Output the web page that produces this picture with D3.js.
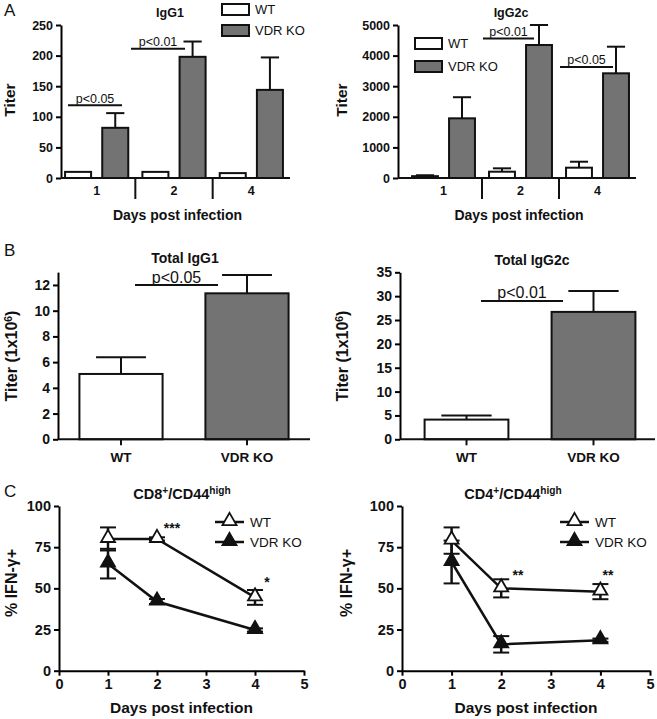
<!DOCTYPE html>
<html><head><meta charset="utf-8">
<script src="https://cdn.jsdelivr.net/npm/d3@7/dist/d3.min.js"></script>
<style>
body{margin:0;background:#fff;}
svg{display:block;font-family:"Liberation Sans",Arial,sans-serif;}
</style></head>
<body><svg id="fig" width="657" height="719"></svg>
<script>
// ---------------- DATA ----------------
const seriesNames = ["WT", "VDR KO"];
const daysA = ["1", "2", "4"];
const igg1WT = [10, 10, 8];
const igg1WTErr = [0, 0, 0];
const igg1KO = [82, 198, 144];
const igg1KOErr = [24, 25, 53];
const igg1Ticks = [0, 50, 100, 150, 200, 250];

const igg2cWT = [60, 206, 337];
const igg2cWTErr = [30, 110, 195];
const igg2cKO = [1950, 4346, 3421];
const igg2cKOErr = [690, 654, 870];
const igg2cTicks = [0, 1000, 2000, 3000, 4000, 5000];

const totalGroups = ["WT", "VDR KO"];
const totalIgG1 = [5.08, 11.35];
const totalIgG1Err = [1.3, 1.43];
const totalIgG1Ticks = [0, 2, 4, 6, 8, 10, 12];
const totalIgG2c = [4.13, 26.7];
const totalIgG2cErr = [0.84, 4.4];
const totalIgG2cTicks = [0, 5, 10, 15, 20, 25, 30, 35];

const daysC = [1, 2, 4];
const cd8WT = [80, 80, 44.5];
const cd8WTErr = [7, 1, 4.5];
const cd8KO = [65, 42, 24.7];
const cd8KOErr = [9, 1.5, 1];
const cd4WT = [79, 50, 48];
const cd4WTErr = [8, 5.5, 4.6];
const cd4KO = [66, 16, 18.5];
const cd4KOErr = [13, 5, 1];
const pctTicks = [0, 25, 50, 75, 100];
const dayTicks = [0, 1, 2, 3, 4, 5];

// ---------------- HELPERS ----------------
const svg = d3.select("#fig");
const KO_FILL = "#737373";
const fmt = d3.format("d");

function yAxis(g, y, x0, ticks, fs) {
  const a = g.append("g").attr("transform", `translate(${x0},0)`)
    .call(d3.axisLeft(y).tickValues(ticks).tickFormat(fmt).tickSize(5).tickPadding(3).tickSizeOuter(0));
  a.select(".domain").attr("stroke", "#000").attr("stroke-width", 2);
  a.selectAll(".tick line").attr("stroke", "#000").attr("stroke-width", 2);
  a.selectAll(".tick text").attr("font-size", fs).attr("font-weight", "bold")
    .attr("fill", "#111").attr("font-family", "Liberation Sans, Arial, sans-serif");
  return a;
}
function rotTitle(g, x, y, parts, fs) {
  const t = g.append("text").attr("transform", `translate(${x},${y}) rotate(-90)`)
    .attr("text-anchor", "middle").attr("font-size", fs).attr("font-weight", "bold").attr("fill", "#111");
  parts.forEach(p => {
    const ts = t.append("tspan").text(p.t);
    if (p.sup) ts.attr("baseline-shift", "super").attr("font-size", fs * 0.65);
  });
}
function title(g, x, y, parts, fs) {
  const t = g.append("text").attr("x", x).attr("y", y).attr("text-anchor", "middle")
    .attr("font-size", fs).attr("font-weight", "bold").attr("fill", "#111");
  parts.forEach(p => {
    const ts = t.append("tspan").text(p.t);
    if (p.sup) ts.attr("baseline-shift", "super").attr("font-size", fs * 0.7);
  });
}
function sigBar(g, x1, x2, y, label, fs, dy) {
  g.append("line").attr("x1", x1).attr("x2", x2).attr("y1", y).attr("y2", y)
    .attr("stroke", "#111").attr("stroke-width", 2);
  g.append("text").attr("x", (x1 + x2) / 2).attr("y", y - dy).attr("text-anchor", "middle")
    .attr("font-size", fs).attr("fill", "#111").text(label);
}
function legendBoxes(g, x, ys, fs) {
  seriesNames.forEach((n, i) => {
    g.append("rect").attr("x", x).attr("y", ys[i]).attr("width", 27).attr("height", 11)
      .attr("fill", i ? KO_FILL : "#fff").attr("stroke", "#111").attr("stroke-width", 2);
    g.append("text").attr("x", x + 33).attr("y", ys[i] + 10).attr("font-size", fs)
      .attr("fill", "#111").text(n);
  });
}

// grouped bar chart (panel A)
function groupedBars(opt) {
  const g = svg.append("g");
  const y = d3.scaleLinear().domain([0, opt.max]).range([178, 25]);
  const x0 = d3.scaleBand().domain(daysA).range(opt.xr).paddingInner(0).paddingOuter(0);
  const x1 = d3.scaleBand().domain(seriesNames).range([0, x0.bandwidth()]).paddingInner(0.3).paddingOuter(0.19);
  yAxis(g, y, opt.ax, opt.ticks, 12.5);
  const vals = [opt.wt, opt.ko], errs = [opt.wtErr, opt.koErr];
  daysA.forEach((d, i) => {
    seriesNames.forEach((s, j) => {
      const bx = x0(d) + x1(s), bw = x1.bandwidth(), v = vals[j][i], e = errs[j][i];
      const cx = bx + bw / 2;
      if (e > 0) {
        g.append("line").attr("x1", cx).attr("x2", cx).attr("y1", y(v)).attr("y2", y(v + e))
          .attr("stroke", "#111").attr("stroke-width", 2);
        g.append("line").attr("x1", cx - bw * 0.35).attr("x2", cx + bw * 0.35)
          .attr("y1", y(v + e)).attr("y2", y(v + e)).attr("stroke", "#111").attr("stroke-width", 2);
      }
      g.append("rect").attr("x", bx).attr("y", y(v)).attr("width", bw).attr("height", y(0) - y(v))
        .attr("fill", j ? KO_FILL : "#fff").attr("stroke", "#111").attr("stroke-width", 2);
    });
    g.append("text").attr("x", x0(d) + x0.bandwidth() / 2).attr("y", 195).attr("text-anchor", "middle")
      .attr("font-size", 12.5).attr("font-weight", "bold").attr("fill", "#111").text(d);
  });
  // x axis line & separators
  g.append("line").attr("x1", opt.ax).attr("x2", opt.xr[1]).attr("y1", y(0)).attr("y2", y(0))
    .attr("stroke", "#111").attr("stroke-width", 2);
  daysA.slice(1).forEach(d => {
    g.append("line").attr("x1", x0(d)).attr("x2", x0(d)).attr("y1", y(0)).attr("y2", 199)
      .attr("stroke", "#111").attr("stroke-width", 2);
  });
  g.append("text").attr("x", (opt.ax + opt.xr[1]) / 2 + 2).attr("y", 220).attr("text-anchor", "middle")
    .attr("font-size", 14).attr("font-weight", "bold").attr("fill", "#111").text("Days post infection");
  rotTitle(g, opt.ax - opt.yl, 100, [{t: "Titer"}], 15.5);
  title(g, opt.titleX, 17, [{t: opt.title}], 12.5);
  opt.sig.forEach(s => sigBar(g, s[0], s[1], y(s[2]), s[3], 12.5, 2.5));
  legendBoxes(g, opt.legX, opt.legY, 13);
}

groupedBars({max: 250, xr: [58, 290], ax: 61, yl: 46, ticks: igg1Ticks, wt: igg1WT, wtErr: igg1WTErr,
  ko: igg1KO, koErr: igg1KOErr, title: "IgG1", titleX: 170,
  sig: [[68, 122, 119, "p<0.05"], [131, 185, 211, "p<0.01"]], legX: 222, legY: [4, 25]});
groupedBars({max: 5000, xr: [405, 636], ax: 398, yl: 51, ticks: igg2cTicks, wt: igg2cWT, wtErr: igg2cWTErr,
  ko: igg2cKO, koErr: igg2cKOErr, title: "IgG2c", titleX: 511,
  sig: [[483, 534, 4560, "p<0.01"], [560, 613, 3630, "p<0.05"]], legX: 415, legY: [38, 61]});

// single bars (panel B)
function totalBars(opt) {
  const g = svg.append("g");
  const y = d3.scaleLinear().domain([0, opt.max]).range([439.3, opt.top]);
  const x = d3.scaleBand().domain(totalGroups).range(opt.xr).paddingInner(0.34).paddingOuter(0.17);
  yAxis(g, y, opt.ax, opt.ticks, 14);
  totalGroups.forEach((c, i) => {
    const bx = x(c), bw = x.bandwidth(), cx = bx + bw / 2, v = opt.vals[i], e = opt.errs[i];
    g.append("line").attr("x1", cx).attr("x2", cx).attr("y1", y(v)).attr("y2", y(v + e))
      .attr("stroke", "#111").attr("stroke-width", 2);
    g.append("line").attr("x1", cx - bw * 0.3).attr("x2", cx + bw * 0.3)
      .attr("y1", y(v + e)).attr("y2", y(v + e)).attr("stroke", "#111").attr("stroke-width", 2);
    g.append("rect").attr("x", bx).attr("y", y(v)).attr("width", bw).attr("height", y(0) - y(v))
      .attr("fill", i ? KO_FILL : "#fff").attr("stroke", "#111").attr("stroke-width", 2);
    g.append("line").attr("x1", cx).attr("x2", cx).attr("y1", y(0)).attr("y2", y(0) + 6)
      .attr("stroke", "#111").attr("stroke-width", 2);
    g.append("text").attr("x", cx).attr("y", 462).attr("text-anchor", "middle")
      .attr("font-size", 13.5).attr("font-weight", "bold").attr("fill", "#111").text(c);
  });
  g.append("line").attr("x1", opt.ax).attr("x2", opt.xEnd).attr("y1", y(0)).attr("y2", y(0))
    .attr("stroke", "#111").attr("stroke-width", 2);
  rotTitle(g, opt.ax - opt.yl, 356, [{t: "Titer (1x10"}, {t: "6", sup: true}, {t: ")"}], 16);
  title(g, opt.titleX, opt.titleY, [{t: opt.title}], 14);
  sigBar(g, opt.sig[0], opt.sig[1], y(opt.sig[2]), opt.sig[3], 16, opt.sig[4]);
}
totalBars({max: 13, top: 272.1, xr: [58, 310], ax: 58, xEnd: 310, yl: 41, ticks: totalIgG1Ticks,
  vals: totalIgG1, errs: totalIgG1Err, title: "Total IgG1", titleX: 185, titleY: 263,
  sig: [135, 218, 12.0, "p<0.05", 2]});
totalBars({max: 35, top: 272.3, xr: [403, 657], ax: 400, xEnd: 655, yl: 52, ticks: totalIgG2cTicks,
  vals: totalIgG2c, errs: totalIgG2cErr, title: "Total IgG2c", titleX: 532, titleY: 265,
  sig: [481, 563, 29.0, "p<0.01", 3]});

// line charts (panel C)
const tri = d3.symbol().type(d3.symbolTriangle).size(85);
function lineChart(opt) {
  const g = svg.append("g");
  const x = d3.scaleLinear().domain([0, 5]).range(opt.xr);
  const y = d3.scaleLinear().domain([0, 100]).range([670.7, 506]);
  yAxis(g, y, opt.xr[0], pctTicks, 14.5);
  const xa = g.append("g").attr("transform", `translate(0,${y(0)})`)
    .call(d3.axisBottom(x).tickValues(dayTicks).tickFormat(fmt).tickSize(5).tickPadding(3).tickSizeOuter(0));
  xa.select(".domain").attr("stroke", "#000").attr("stroke-width", 2);
  xa.selectAll(".tick line").attr("stroke", "#000").attr("stroke-width", 2);
  xa.selectAll(".tick text").attr("font-size", 14.5).attr("font-weight", "bold").attr("fill", "#111")
    .attr("font-family", "Liberation Sans, Arial, sans-serif");
  const series = [[opt.wt, opt.wtErr, "#fff"], [opt.ko, opt.koErr, "#111"]];
  const line = d3.line().x((d, i) => x(daysC[i])).y(d => y(d));
  // error bars
  series.forEach(([vals, errs]) => {
    vals.forEach((v, i) => {
      const cx = x(daysC[i]);
      g.append("line").attr("x1", cx).attr("x2", cx).attr("y1", y(v - errs[i])).attr("y2", y(v + errs[i]))
        .attr("stroke", "#111").attr("stroke-width", 2.5);
      [v - errs[i], v + errs[i]].forEach(e => g.append("line").attr("x1", cx - 8).attr("x2", cx + 8)
        .attr("y1", y(e)).attr("y2", y(e)).attr("stroke", "#111").attr("stroke-width", 2));
    });
  });
  series.forEach(([vals, errs, fill]) => {
    g.append("path").attr("d", line(vals)).attr("fill", "none").attr("stroke", "#111").attr("stroke-width", 2.5);
    vals.forEach((v, i) => g.append("path").attr("d", tri)
      .attr("transform", `translate(${x(daysC[i])},${y(v) - 1})`)
      .attr("fill", fill).attr("stroke", "#111").attr("stroke-width", 1.8));
  });
  // legend
  seriesNames.forEach((n, i) => {
    const ly = 522 + i * 20;
    g.append("line").attr("x1", opt.legX).attr("x2", opt.legX + 29).attr("y1", ly).attr("y2", ly)
      .attr("stroke", "#111").attr("stroke-width", 2.5);
    g.append("path").attr("d", tri).attr("transform", `translate(${opt.legX + 14.5},${ly - 1})`)
      .attr("fill", i ? "#111" : "#fff").attr("stroke", "#111").attr("stroke-width", 1.8);
    g.append("text").attr("x", opt.legX + 35).attr("y", ly + 5).attr("font-size", 13.5).attr("fill", "#111").text(n);
  });
  opt.stars.forEach(s => g.append("text").attr("x", s[0]).attr("y", s[1]).attr("text-anchor", "middle")
    .attr("font-size", 14).attr("font-weight", "bold").attr("fill", "#111").text(s[2]));
  g.append("text").attr("x", (opt.xr[0] + opt.xr[1]) / 2).attr("y", 713).attr("text-anchor", "middle")
    .attr("font-size", 15.5).attr("font-weight", "bold").attr("fill", "#111").text("Days post infection");
  rotTitle(g, opt.xr[0] - opt.yl, 583, [{t: "% IFN-γ+"}], 16);
  title(g, opt.titleX, 499, opt.title, 14.5);
}
lineChart({xr: [59, 304], yl: 42, wt: cd8WT, wtErr: cd8WTErr, ko: cd8KO, koErr: cd8KOErr, legX: 215,
  stars: [[172, 533, "***"], [267, 587, "*"]], titleX: 182,
  title: [{t: "CD8"}, {t: "+", sup: true}, {t: "/CD44"}, {t: "high", sup: true}]});
lineChart({xr: [402, 650], yl: 50, wt: cd4WT, wtErr: cd4WTErr, ko: cd4KO, koErr: cd4KOErr, legX: 560,
  stars: [[518, 580, "**"], [608, 580, "**"]], titleX: 513,
  title: [{t: "CD4"}, {t: "+", sup: true}, {t: "/CD44"}, {t: "high", sup: true}]});

// panel letters
[["A", 4, 16], ["B", 4, 256], ["C", 4, 497]].forEach(([t, x, yy]) =>
  svg.append("text").attr("x", x).attr("y", yy).attr("font-size", 17).attr("fill", "#111").text(t));
</script></body></html>
